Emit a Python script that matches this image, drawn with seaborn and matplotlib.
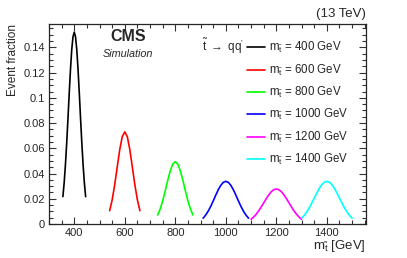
import matplotlib
matplotlib.use("Agg")
import matplotlib.pyplot as plt
from matplotlib.ticker import MultipleLocator, FuncFormatter
import seaborn as sns
import pandas as pd

# masses of the stop samples and the colours used for each
masses = [400, 600, 800, 1000, 1200, 1400]
colors = ['#000000', '#ff0000', '#00ff00', '#0000ff', '#ff00ff', '#00ffff']

# reconstructed mass distributions
x400 = [355, 360, 365, 370, 375, 380, 385, 390, 395, 400, 405, 410, 415, 420, 425, 430, 435, 440, 445]
y400 = [0.0217, 0.0326, 0.0468, 0.0640, 0.0833, 0.1035, 0.1224, 0.1381, 0.1484, 0.1520,
        0.1484, 0.1381, 0.1224, 0.1035, 0.0833, 0.0640, 0.0468, 0.0326, 0.0217]
x600 = [540, 550, 560, 570, 580, 590, 600, 610, 620, 630, 640, 650, 660]
y600 = [0.0105, 0.0190, 0.0309, 0.0450, 0.0589, 0.0692, 0.0730, 0.0692, 0.0589, 0.0450, 0.0309, 0.0190, 0.0105]
x800 = [730, 740, 750, 760, 770, 780, 790, 800, 810, 820, 830, 840, 850, 860, 870]
y800 = [0.0071, 0.0118, 0.0183, 0.0262, 0.0346, 0.0421, 0.0475, 0.0494,
        0.0475, 0.0421, 0.0346, 0.0262, 0.0183, 0.0118, 0.0071]
x1000 = [910, 920, 930, 940, 950, 960, 970, 980, 990, 1000, 1010, 1020, 1030, 1040, 1050, 1060, 1070, 1080, 1090]
y1000 = [0.0046, 0.0070, 0.0101, 0.0139, 0.0182, 0.0228, 0.0271, 0.0306, 0.0330, 0.0338,
         0.0330, 0.0306, 0.0271, 0.0228, 0.0182, 0.0139, 0.0101, 0.0070, 0.0046]
x1200 = [1100, 1110, 1120, 1130, 1140, 1150, 1160, 1170, 1180, 1190, 1200,
         1210, 1220, 1230, 1240, 1250, 1260, 1270, 1280, 1290, 1300]
y1200 = [0.0037, 0.0055, 0.0077, 0.0104, 0.0135, 0.0168, 0.0201, 0.0231, 0.0256, 0.0272, 0.0277,
         0.0272, 0.0256, 0.0231, 0.0201, 0.0168, 0.0135, 0.0104, 0.0077, 0.0055, 0.0037]
x1400 = [1300, 1310, 1320, 1330, 1340, 1350, 1360, 1370, 1380, 1390, 1400,
         1410, 1420, 1430, 1440, 1450, 1460, 1470, 1480, 1490, 1500]
y1400 = [0.0046, 0.0067, 0.0094, 0.0127, 0.0165, 0.0205, 0.0245, 0.0282, 0.0312, 0.0331, 0.0338,
         0.0331, 0.0312, 0.0282, 0.0245, 0.0205, 0.0165, 0.0127, 0.0094, 0.0067, 0.0046]

xs = [x400, x600, x800, x1000, x1200, x1400]
ys = [y400, y600, y800, y1000, y1200, y1400]

labels = [r'$\mathrm{m}_{\tilde{\mathrm{t}}}$ = %d GeV' % m for m in masses]
rows = []
for lab, xv, yv in zip(labels, xs, ys):
    for a, b in zip(xv, yv):
        rows.append({'mass': a, 'frac': b, 'sample': lab})
df = pd.DataFrame(rows)

sns.set_style('ticks')
plt.rcParams['font.family'] = ['Liberation Sans', 'DejaVu Sans']
plt.rcParams['mathtext.fontset'] = 'custom'
plt.rcParams['mathtext.rm'] = 'Liberation Sans'
plt.rcParams['mathtext.it'] = 'Liberation Sans:italic'
plt.rcParams['mathtext.bf'] = 'Liberation Sans:bold'

fig = plt.figure(figsize=(4.07, 2.58), dpi=100)
ax = fig.add_axes([0.1204, 0.1318, 0.7789, 0.7752])

sns.lineplot(data=df, x='mass', y='frac', hue='sample', palette=colors,
             linewidth=1.2, ax=ax, legend=False, sort=False, estimator=None)

ax.set_xlim(300, 1555)
ax.set_ylim(0, 0.1585)
ax.xaxis.set_major_locator(MultipleLocator(200))
ax.xaxis.set_minor_locator(MultipleLocator(50))
ax.yaxis.set_major_locator(MultipleLocator(0.02))
ax.yaxis.set_minor_locator(MultipleLocator(0.005))
ax.yaxis.set_major_formatter(FuncFormatter(lambda v, p: '%g' % round(v, 3)))
ax.tick_params(which='both', direction='in', top=True, right=True, labelsize=8, width=0.8, color='#333333')
ax.tick_params(which='major', length=5, pad=3)
ax.tick_params(which='minor', length=2.8)
for s in ax.spines.values():
    s.set_linewidth(0.9)

ax.set_xlabel(r'$\mathrm{m}_{\tilde{\mathrm{t}}}$ [GeV]', loc='right', fontsize=9.5, labelpad=0)
ax.set_ylabel('Event fraction', loc='top', fontsize=8.5, labelpad=3)

ax.text(0.249, 0.935, 'CMS', transform=ax.transAxes, ha='center', va='center',
        fontsize=11.5, fontweight='bold')
ax.text(0.249, 0.85, 'Simulation', transform=ax.transAxes, ha='center', va='center',
        fontsize=7.8, style='italic')
fig.text(0.8993, 0.922, '(13 TeV)', ha='right', va='bottom', fontsize=9.5)

# legend: header on the left of the first entry
fig.text(0.497, 0.822, r"$\tilde{\mathrm{t}}\ \rightarrow\ \mathrm{qq'}$", ha='left', va='center', fontsize=8.5)
handles = [plt.Line2D([], [], color=c, linewidth=1.2) for c in colors]
ax.legend(handles, labels, loc='upper left', bbox_to_anchor=(0.607, 0.844), bbox_transform=fig.transFigure,
          frameon=False, fontsize=8.3, handlelength=1.6, handletextpad=0.3, labelspacing=0.63,
          borderaxespad=0, borderpad=0)

plt.savefig('out.png', dpi=100)
